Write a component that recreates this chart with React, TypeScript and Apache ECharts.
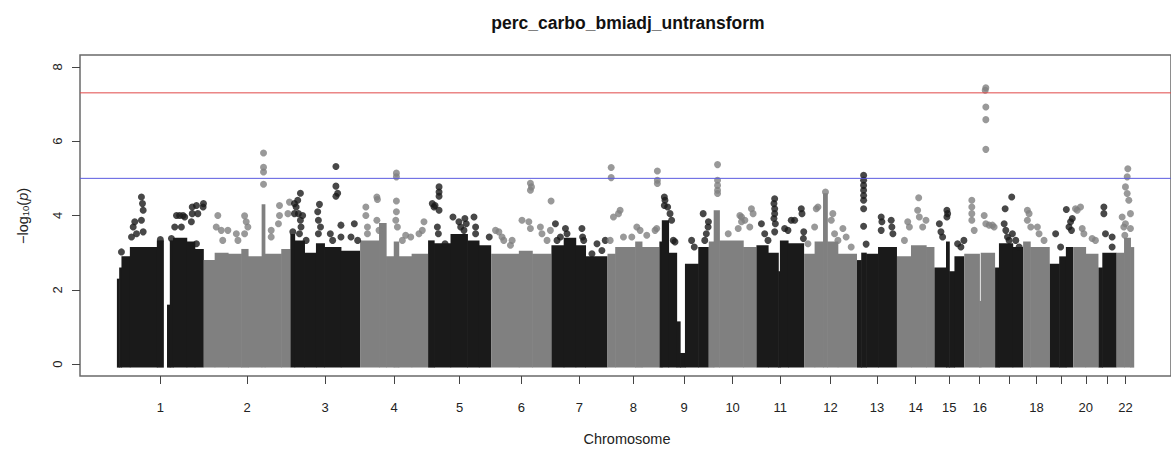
import React, { useEffect, useRef } from 'react';
import * as echarts from 'echarts';

// ---- data ----
const chromosomes = ['1','2','3','4','5','6','7','8','9','10','11','12','13','14','15','16','17','18','19','20','21','22'];
const chrLengthMb = [248, 247, 199, 194, 180, 172, 160, 148, 141, 136, 136, 151, 114, 107, 85, 88, 80, 76, 67, 72, 52, 50];
const chrTickLabels = ['1','2','3','4','5','6','7','8','9','10','11','12','13','14','15','16','','18','','20','','22'];
const yTicks = [0, 2, 4, 6, 8];
const genomeWideLine = 7.30103;
const suggestiveLine = 5;

// dense mass of points per chromosome: [startMb, endMb, upper edge of -log10(p)]
const massSegments: number[][][] = [
  [[0,6.5,2.3],[6.5,13,2.6],[13,37,2.9],[37,114,3.15],[114,134,3.33],[143,151,1.6],[151,160,3.33],[160,199,3.4],[199,222,3.3],[222,248,3.1]],
  [[0,31,2.8],[31,69,3.0],[69,107,2.97],[107,126,3.1],[126,165,2.9],[165,174,4.3],[174,221,2.97],[221,247,3.1]],
  [[0,12,3.5],[12,40,3.33],[40,73,3.0],[73,97,3.25],[97,144,3.15],[144,199,3.05]],
  [[0,54,3.33],[54,74,3.8],[74,96,2.9],[96,110,3.3],[110,147,2.9],[147,194,2.97]],
  [[0,17,3.33],[17,64,3.25],[64,112,3.5],[112,145,3.33],[145,180,3.2]],
  [[0,79,2.97],[79,117,3.05],[117,172,2.97]],
  [[0,35,3.2],[35,69,3.4],[69,97,3.2],[97,160,2.9]],
  [[0,22,2.97],[22,79,3.15],[79,98,3.3],[98,148,3.15]],
  [[0,7,3.3],[7,26,3.87],[26,49,3.0],[49,59,1.15],[59,73,0.3],[73,111,2.7],[111,141,3.15]],
  [[0,14,3.3],[14,30,4.14],[30,98,3.33],[98,136,3.15]],
  [[0,33,3.2],[33,62,3.0],[62,67,2.5],[67,90,3.33],[90,136,3.25]],
  [[0,30,2.97],[30,54,3.3],[54,66,4.6],[66,96,3.3],[96,151,2.97]],
  [[0,12,2.8],[12,26,3.0],[26,60,2.97],[60,114,3.15]],
  [[0,40,2.9],[40,83,3.2],[83,107,3.15]],
  [[0,33,2.6],[33,42,3.3],[42,57,2.5],[57,85,2.9]],
  [[0,43,2.97],[43,47,1.7],[47,88,3.0]],
  [[0,11,2.6],[11,50,3.25],[50,80,3.15]],
  [[0,20,3.3],[20,76,3.15]],
  [[0,27,2.7],[27,46,2.9],[46,67,3.15]],
  [[0,35,3.15],[35,72,2.97]],
  [[0,11,2.6],[11,52,3.0]],
  [[0,21,3.0],[21,39,3.4],[39,50,3.15]],
];

// individual SNPs standing above the mass: [positionMb, -log10(p)]
const topHits: number[][][] = [
  [[13,3.02],[41.7,3.42],[46.5,3.69],[51,3.83],[56,3.51],[70,4.5],[73,4.32],[75,4.14],[70,3.87],[75,3.56],[124,3.35],[155.6,3.38],[165,3.69],[170,4.0],[179,4.0],[184,3.69],[188.7,4.0],[193.5,3.96],[212.5,3.83],[215,4.23],[215,4.05],[227,3.24],[227,4.27],[231,4.05],[246,4.23],[247,4.32]],
  [[35.5,3.69],[40,4.0],[49.8,3.6],[54,3.33],[68.7,3.6],[92.8,3.51],[97.4,3.33],[116.4,3.99],[116.4,3.51],[121,3.83],[125.7,3.69],[170.4,5.68],[170.4,5.3],[170.4,5.17],[170.4,4.84],[192.3,3.6],[192.3,3.42],[213,3.78],[216,4.27],[216,4.0],[240,4.05],[244.4,4.36]],
  [[7,3.56],[11.7,4.32],[11.7,4.05],[16.5,4.23],[21,4.41],[23,4.05],[26,3.51],[28.7,4.6],[28.7,3.87],[30.4,3.69],[35,4.0],[45,3.33],[78,4.1],[80,3.87],[80,3.51],[83,4.3],[86,3.69],[114,3.51],[120.6,3.33],[130,5.32],[130,4.79],[130,4.52],[135,4.6],[144.4,3.74],[144.4,3.42],[173,3.42],[182.5,3.78],[192,3.33]],
  [[16.4,4.23],[16.4,4.0],[21,3.69],[21,3.51],[47.8,4.5],[49.5,4.43],[47.8,3.87],[54,3.6],[101.8,3.87],[103.6,5.14],[103.6,5.04],[103.6,4.39],[103.6,4.1],[106.4,3.69],[120.6,3.33],[130,3.47],[144.5,3.42],[168,3.51],[177.5,3.6],[182.3,3.83]],
  [[12,4.32],[17,4.23],[19.9,4.27],[26.5,3.69],[29.4,3.51],[31.3,4.77],[31.3,4.63],[31.3,4.52],[31.3,4.14],[48.4,3.24],[71,3.96],[88,3.83],[93,3.69],[102.4,3.6],[105,3.92],[109,3.78],[131,3.96],[135.6,3.69],[135.6,3.51],[174.5,3.42]],
  [[12.4,3.6],[22,3.56],[31,3.42],[36,3.33],[55,3.2],[59.8,3.33],[88,3.87],[107.5,3.83],[112,4.87],[112,4.68],[112,3.65],[115,4.77],[140.5,3.69],[145,3.51],[159.5,3.33],[169,3.6],[171,4.39]],
  [[11.4,3.78],[16,3.33],[25.6,3.42],[40,3.65],[44.5,3.51],[87,3.65],[89,3.42],[92,3.33],[115.6,2.97],[130,3.24],[144,3.06],[153.6,3.33]],
  [[7.6,3.33],[10.5,5.29],[10.5,5.02],[17,3.96],[31.3,4.05],[36,4.14],[45.5,3.42],[69.3,3.42],[83.6,3.69],[93,3.6],[112,3.47],[135.7,3.6],[140.4,3.65],[142.3,5.2],[142.3,4.95],[142.3,4.86]],
  [[14.2,4.5],[16,4.41],[14.2,4.27],[23.6,4.23],[30.4,4.05],[35,3.87],[39.8,3.33],[44.5,3.29],[92,3.33],[99.6,3.15],[125,4.05],[129.5,3.33],[134,3.51],[139,3.69],[140,3.83]],
  [[25,5.37],[25,4.95],[25,4.81],[25,4.68],[25,4.59],[55.5,3.51],[84,3.65],[88.7,4.0],[93.4,3.83],[93.4,3.96],[103,3.87],[117,3.69],[121.7,4.18],[126.5,4.05]],
  [[14.2,3.78],[23.6,3.51],[33,3.33],[50,4.32],[50,3.92],[52,4.45],[52,4.18],[52,4.05],[52,3.56],[54,3.78],[80.5,3.65],[90,3.6],[99.4,3.87],[109,3.87],[128,4.18],[130,4.05],[134,3.38],[135,3.56]],
  [[11,3.24],[30,3.69],[34.7,4.18],[39.5,4.23],[61,4.63],[77.5,3.87],[82,4.05],[87,3.51],[96.5,3.33],[110.7,3.65],[120,3.42],[134.4,3.15]],
  [[18.8,5.08],[18.8,4.95],[18.8,4.81],[18.8,4.68],[18.8,4.54],[18.8,4.41],[18.8,4.18],[18.8,3.71],[26,3.23],[69,3.96],[69,3.6],[71,3.83],[97.6,3.87],[99.5,3.69],[102.4,3.51]],
  [[21.3,3.33],[30.7,3.83],[35.5,3.69],[59,4.14],[62,4.48],[63.8,3.96],[73.4,3.69],[82.8,3.87]],
  [[14,3.78],[18.5,3.56],[23.3,3.42],[35.5,4.14],[35.5,3.96],[37.6,4.05],[66,3.24],[75.4,3.15],[84,3.33]],
  [[21.6,4.41],[21.6,4.23],[21.6,4.05],[21.6,3.87],[28.4,3.6],[56.9,4.0],[59.8,7.37],[61.6,7.44],[61.6,6.92],[61.6,6.58],[61.6,5.78],[61.6,3.78],[71,3.74],[80.5,3.74],[85.3,3.69]],
  [[25.9,3.78],[28.7,4.18],[30.6,3.6],[35.4,3.42],[40,3.33],[47.5,4.5],[49.5,3.51],[59,3.33],[68.6,3.15]],
  [[12.2,4.14],[12.2,3.87],[17,4.05],[21.8,3.69],[40.7,3.69],[45.5,3.51],[59.7,3.33]],
  [[16.8,3.51],[31,3.15],[47.3,4.16],[54.9,3.69],[59.4,3.83],[62,3.6],[64.3,3.92]],
  [[6.5,4.18],[11.4,4.14],[20.8,4.23],[25.6,3.65],[30.4,3.51],[54,3.38],[63.3,3.33]],
  [[15.4,4.23],[15.4,4.05],[20,3.51],[39,3.42],[39,3.15]],
  [[15.6,3.96],[20.4,3.69],[23.2,3.47],[25,4.77],[25,3.78],[30,5.04],[30,4.59],[31.8,5.26],[34.7,4.41],[39.3,4.05],[39.3,3.65]],
];

// ---- styling ----
const COLORS = ['#1a1a1a', '#808080'];
const FONT = '"Liberation Sans", Arial, Helvetica, sans-serif';
const TEXT = '#222222';
const DOT = 7;

export default function App() {
  const ref = useRef<HTMLDivElement>(null);

  useEffect(() => {
    if (!ref.current) return;
    const chart = echarts.init(ref.current, null, { renderer: 'svg' });

    const offsets: number[] = [];
    let acc = 0;
    chrLengthMb.forEach((l) => { offsets.push(acc); acc += l; });
    const centers = chrLengthMb.map((l, i) => offsets[i] + l / 2);

    const massData: number[][] = [];
    massSegments.forEach((segs, i) => {
      segs.forEach((s, j) => {
        const next = segs[j + 1];
        const joined = next && Math.abs(next[0] - s[1]) < 1e-6 ? 1 : 0;
        massData.push([offsets[i] + s[0], offsets[i] + s[1], s[2], i % 2, joined]);
      });
    });

    const hitData: any[] = [];
    topHits.forEach((pts, i) => {
      pts.forEach((p) => hitData.push({ value: [offsets[i] + p[0], p[1]], itemStyle: { color: COLORS[i % 2] } }));
    });

    const xMin = -105.3;
    const xMax = 3008;

    const labelFor = (v: number) => {
      const idx = centers.findIndex((c) => Math.abs(c - v) < 0.01);
      return idx >= 0 ? chrTickLabels[idx] : '';
    };

    const option: any = {
      animation: false,
      grid: {
        left: 80, top: 55, width: 1094, height: 321,
        show: true, borderColor: '#6a6a6a', borderWidth: 1.5, backgroundColor: 'transparent',
      },
      xAxis: {
        type: 'value', min: xMin, max: xMax,
        splitLine: { show: false },
        axisLine: { show: false, onZero: false },
        axisTick: { show: true, length: 8, customValues: centers, lineStyle: { color: '#444', width: 1 } },
        axisLabel: { show: true, customValues: centers, formatter: labelFor, margin: 25, color: TEXT, fontSize: 13, fontFamily: FONT },
      },
      yAxis: {
        type: 'value', min: -0.32, max: 8.32,
        splitLine: { show: false },
        axisLine: { show: false, onZero: false },
        axisTick: { show: true, length: 8, customValues: yTicks, lineStyle: { color: '#444', width: 1 } },
        axisLabel: { show: true, customValues: yTicks, rotate: 90, margin: 16, color: TEXT, fontSize: 13, fontFamily: FONT },
      },
      series: [
        {
          type: 'custom',
          z: 1,
          clip: true,
          data: massData,
          encode: { x: [0, 1], y: 2 },
          renderItem: (params: any, api: any) => {
            const pTop = api.coord([api.value(0), api.value(2)]);
            const pEnd = api.coord([api.value(1), 0]);
            const overlap = api.value(4) ? 0.6 : 0;
            return {
              type: 'rect',
              shape: { x: pTop[0], y: pTop[1], width: pEnd[0] - pTop[0] + overlap, height: pEnd[1] + DOT / 2 - pTop[1] },
              style: { fill: COLORS[api.value(3)] },
            };
          },
        },
        {
          type: 'scatter',
          z: 2,
          symbol: 'circle',
          symbolSize: DOT,
          data: hitData,
        },
        {
          type: 'line', z: 5, symbol: 'none', silent: true,
          lineStyle: { color: '#e04848', width: 1 },
          data: [[xMin, genomeWideLine], [xMax, genomeWideLine]],
        },
        {
          type: 'line', z: 5, symbol: 'none', silent: true,
          lineStyle: { color: '#5a5ae0', width: 1 },
          data: [[xMin, suggestiveLine], [xMax, suggestiveLine]],
        },
      ],
      graphic: [
        {
          type: 'text', x: 628, y: 23,
          style: { text: 'perc_carbo_bmiadj_untransform', fontSize: 17.5, fontWeight: 'bold', fontFamily: FONT, fill: '#111', align: 'center', verticalAlign: 'middle' },
        },
        {
          type: 'text', x: 627, y: 439,
          style: { text: 'Chromosome', fontSize: 14.5, fontFamily: FONT, fill: TEXT, align: 'center', verticalAlign: 'middle' },
        },
        {
          type: 'text', x: 22.5, y: 216, rotation: Math.PI / 2,
          style: {
            text: '−log{s|10}({i|p})',
            fontSize: 14.5, fontFamily: FONT, fill: TEXT, align: 'center', verticalAlign: 'middle',
            rich: {
              s: { fontSize: 9.5, fontFamily: FONT, fill: TEXT, verticalAlign: 'bottom', padding: [6, 0, 0, 0] },
              i: { fontSize: 14.5, fontFamily: FONT, fill: TEXT, fontStyle: 'italic' },
            },
          },
        },
      ],
    };

    chart.setOption(option);
    return () => chart.dispose();
  }, []);

  return <div ref={ref} style={{ position: 'absolute', left: 0, top: 0, width: 1171, height: 449 }} />;
}
